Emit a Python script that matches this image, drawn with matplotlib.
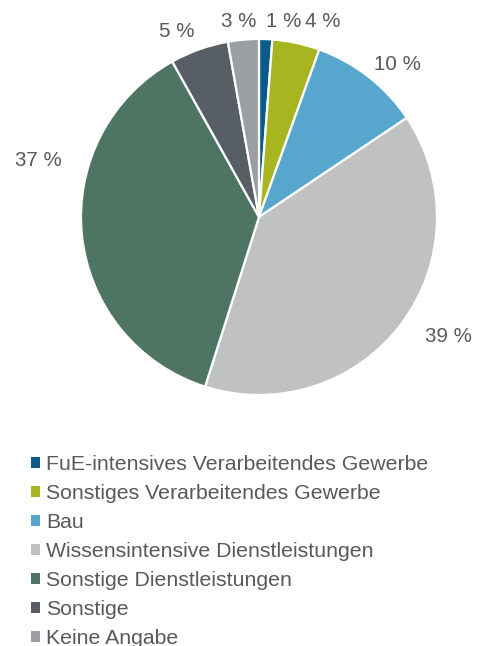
import matplotlib.pyplot as plt
from matplotlib.patches import Patch

categories = [
    "FuE-intensives Verarbeitendes Gewerbe",
    "Sonstiges Verarbeitendes Gewerbe",
    "Bau",
    "Wissensintensive Dienstleistungen",
    "Sonstige Dienstleistungen",
    "Sonstige",
    "Keine Angabe",
]
shares = [1.2, 4.3, 10.1, 39.3, 37.0, 5.3, 2.8]
colors = ["#0b5b8a", "#a6b520", "#56a6cd", "#bfc1c3", "#4e7563", "#575e66", "#9b9fa3"]

# label anchor points in pie units (radius = 1)
label_pos = [(0.14, 1.096), (0.36, 1.096), (0.78, 0.854), (1.067, -0.669),
             (-1.24, 0.32), (-0.46, 1.04), (-0.112, 1.096)]

plt.rcParams["font.family"] = ["Liberation Sans", "DejaVu Sans"]
text_color = "#595959"

fig = plt.figure(figsize=(4.81, 6.46), dpi=100)
ax = fig.add_axes([81 / 481, (646 - 395) / 646, 356 / 481, 356 / 646])

wedges, _ = ax.pie(shares, colors=colors, startangle=90, counterclock=False,
                   radius=1, wedgeprops=dict(edgecolor="white", linewidth=1.6))
ax.set_xlim(-1, 1)
ax.set_ylim(-1, 1)
ax.set_aspect("equal")

for v, (x, y) in zip(shares, label_pos):
    ax.text(x, y, f"{v:.0f} %", ha="center", va="center", fontsize=14.8,
            color=text_color, clip_on=False)

handles = [Patch(facecolor=c, edgecolor="none") for c in colors]
leg = fig.legend(handles, categories, loc="upper left",
                 bbox_to_anchor=(31 / 481, 1 - 455 / 646), frameon=False,
                 fontsize=15.3, handlelength=0.4, handleheight=0.4,
                 handletextpad=0.3, labelspacing=0.47, borderpad=0,
                 borderaxespad=0)
for t in leg.get_texts():
    t.set_color(text_color)

fig.savefig("out.png", dpi=100)
